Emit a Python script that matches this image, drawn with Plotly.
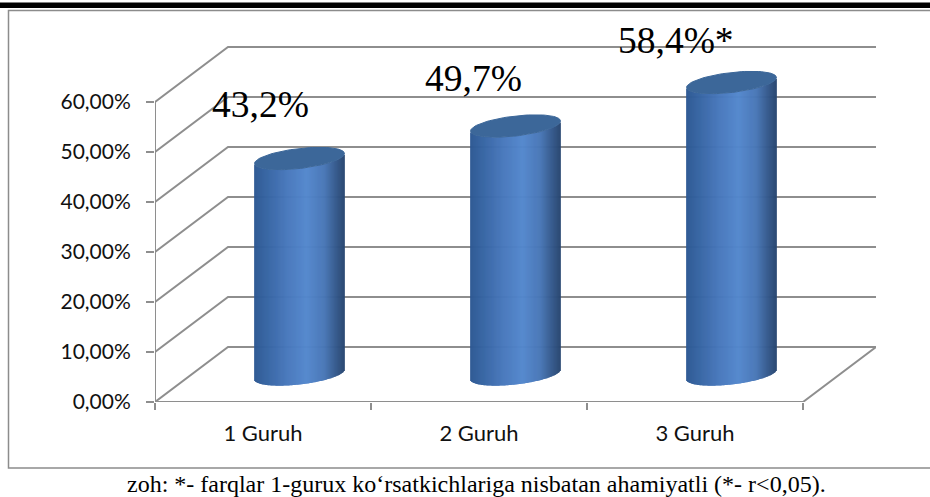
import numpy as np
import plotly.graph_objects as go

# Chart data
categories = ["1 Guruh", "2 Guruh", "3 Guruh"]
values = [43.2, 49.7, 58.4]
label_suffix = ["", "", "*"]
tick_values = [0, 10, 20, 30, 40, 50, 60]
tick_labels = ["0,00%", "10,00%", "20,00%", "30,00%", "40,00%", "50,00%", "60,00%"]
caption = "zoh: *- farqlar 1-gurux ko‘rsatkichlariga nisbatan ahamiyatli (*- r<0,05)."

# Label anchors, in axis units
label_x = [0.99, 1.975, 2.91]
label_y = [59.5, 64.8, 72.3]

# Oblique projection of the chart box
WIDTH, HEIGHT = 930, 497
LEFT, RIGHT, TOP, BOTTOM = 155, 876, 12, 402
PX_PER_CAT = 216.0
PX_PER_VAL = 5.0
DEPTH_X = 73 / PX_PER_CAT
DEPTH_Y = 11.0
X0, X1 = 0.5, 3.5
GRID = "#8e8e8e"

# Cylinder geometry and shading
RADIUS_X = 45 / PX_PER_CAT
RADIUS_Y = 2.0
TILT = 1.0
STRIPS = 90
shade_pos = [0.0, 0.12, 0.35, 0.58, 0.78, 0.92, 1.0]
shade_rgb = [(44, 88, 146), (52, 98, 160), (70, 118, 186), (83, 135, 205),
             (72, 118, 182), (50, 86, 136), (40, 70, 112)]
CAP_COLOR = "#3c6799"


def shade(t):
    rgb = [np.interp(t, shade_pos, [c[k] for c in shade_rgb]) for k in range(3)]
    return "rgb({:.0f},{:.0f},{:.0f})".format(*rgb)


def py(pixel_y):
    """Page pixel row to paper coordinate."""
    return (BOTTOM - pixel_y) / (BOTTOM - TOP)


def px(pixel_x):
    """Page pixel column to paper coordinate."""
    return (pixel_x - LEFT) / (RIGHT - LEFT)


fig = go.Figure()

# Walls and floor
gx, gy = [], []
for v in tick_values:
    gx += [X0, X0 + DEPTH_X, X1 + DEPTH_X, None]
    gy += [v, v + DEPTH_Y, v + DEPTH_Y, None]
gx += [X0, X1, X1 + DEPTH_X, None, X0, X0]
gy += [0, 0, DEPTH_Y, None, 0, tick_values[-1]]
fig.add_trace(go.Scatter(x=gx, y=gy, mode="lines", cliponaxis=False, hoverinfo="skip",
                         line=dict(color=GRID, width=2), showlegend=False))

# Cylinder bodies: one trace per shade, one vertical strip per bar
centers = [i + 1 + DEPTH_X / 2 for i in range(len(values))]
base = DEPTH_Y / 2
for i in range(STRIPS):
    s = (i + 0.5) / STRIPS * 2 - 1
    low = s * TILT - RADIUS_Y * np.sqrt(1 - s * s)
    xs, ys = [], []
    for c, v in zip(centers, values):
        x = c + s * RADIUS_X
        xs += [x, x, None]
        ys += [base + low, base + v + low, None]
    fig.add_trace(go.Scatter(x=xs, y=ys, mode="lines", cliponaxis=False, hoverinfo="skip",
                             line=dict(color=shade((i + 0.5) / STRIPS), width=1.7),
                             showlegend=False))

# Cylinder caps
theta = np.linspace(0, 2 * np.pi, 90)
for c, v in zip(centers, values):
    fig.add_trace(go.Scatter(
        x=c + np.cos(theta) * RADIUS_X,
        y=base + v + np.cos(theta) * TILT + np.sin(theta) * RADIUS_Y,
        mode="lines", fill="toself", fillcolor=CAP_COLOR, cliponaxis=False, hoverinfo="skip",
        line=dict(color=CAP_COLOR, width=1), showlegend=False))

annotations = [
    dict(x=x, y=y, text=f"{v:.1f}".replace(".", ",") + "%" + suf, showarrow=False,
         xref="x", yref="y", font=dict(family="Liberation Serif", size=37.5, color="#000000"))
    for x, y, v, suf in zip(label_x, label_y, values, label_suffix)
]
annotations.append(dict(x=px(476), y=py(484.5), xref="paper", yref="paper", text=caption,
                        showarrow=False, xanchor="center", yanchor="middle",
                        font=dict(family="Liberation Serif", size=24, color="#000000")))

shapes = [
    # Heavy rule across the top of the page
    dict(type="rect", xref="paper", yref="paper", x0=px(0), x1=px(WIDTH), y0=py(2.5), y1=py(8),
         fillcolor="#000000", line_width=0, layer="below"),
    # Chart frame
    dict(type="path", xref="paper", yref="paper", line=dict(color="#8c8c8c", width=1.5), layer="below",
         path=f"M {px(WIDTH)} {py(10.5)} L {px(8.5)} {py(10.5)} L {px(8.5)} {py(468)} L {px(WIDTH)} {py(468)}"),
]

fig.update_layout(
    width=WIDTH, height=HEIGHT, autosize=False,
    margin=dict(l=LEFT, r=WIDTH - RIGHT, t=TOP, b=HEIGHT - BOTTOM, pad=0),
    paper_bgcolor="white", plot_bgcolor="white", showlegend=False,
    annotations=annotations, shapes=shapes,
    font=dict(family="Lato", size=21, color="#111111"),
    xaxis=dict(range=[X0, X0 + (RIGHT - LEFT) / PX_PER_CAT], showgrid=False, zeroline=False,
               showline=False, tickmode="array", tickvals=[1, 2, 3], ticktext=categories,
               ticks="", ticklen=0, ticklabelstandoff=16, tickfont=dict(family="Lato", size=22),
               minor=dict(tickmode="array", tickvals=[0.5, 1.5, 2.5, 3.5], ticks="outside",
                          ticklen=7, tickwidth=2, tickcolor=GRID, showgrid=False)),
    yaxis=dict(range=[0, (BOTTOM - TOP) / PX_PER_VAL], showgrid=False, zeroline=False,
               showline=False, tickmode="array", tickvals=tick_values, ticktext=tick_labels,
               ticks="outside", ticklen=8, tickwidth=2, tickcolor=GRID, ticklabelstandoff=11,
               tickfont=dict(family="Lato", size=21)),
)

fig.write_html("out.html")
